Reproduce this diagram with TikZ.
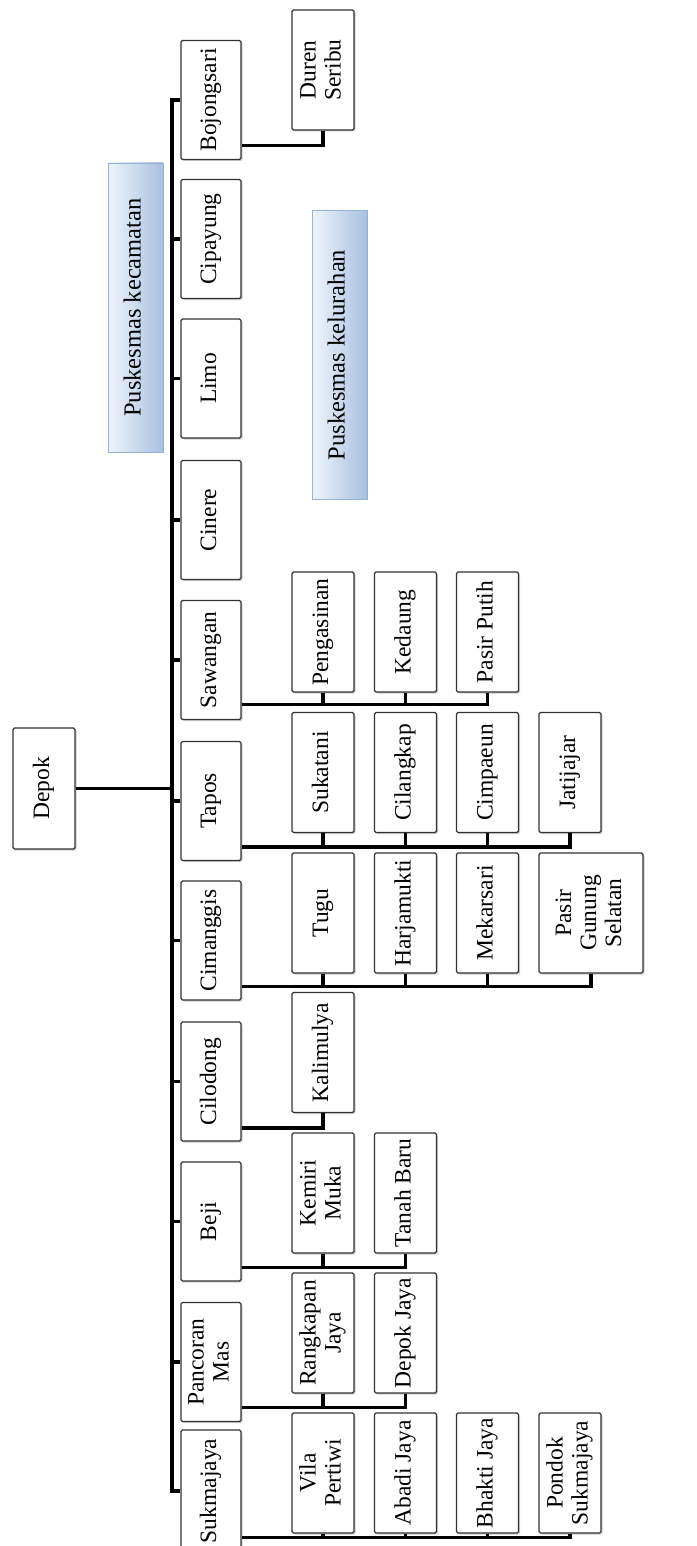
\documentclass[tikz,border=0pt]{standalone}
\usepackage{fontspec}
\setmainfont{Liberation Serif}
\usetikzlibrary{shadows,calc}
\definecolor{legdraw}{RGB}{150,178,215}
\definecolor{legleft}{RGB}{240,245,252}
\definecolor{legright}{RGB}{168,192,224}
% text set sideways, reading upwards
\newcommand\vtxt[1]{\rotatebox{90}{\begin{tabular}{@{}c@{}}#1\end{tabular}}}
\begin{document}
\begin{tikzpicture}[x=1pt,y=-1pt,
  box/.style={draw=black!80, line width=1.1pt, fill=white, rounded corners=1.5pt,
    inner sep=0pt, font=\fontsize{23.5}{25}\selectfont,
    drop shadow={opacity=0.4, shadow xshift=1.5pt, shadow yshift=-1.5pt}},
  kec/.style={box, minimum width=60pt, minimum height=119pt},
  kel/.style={box, minimum width=62pt, minimum height=120pt},
  legendbox/.style={draw=legdraw, line width=0.8pt, left color=legleft, right color=legright,
    inner sep=0pt, minimum width=55pt, minimum height=289pt, font=\fontsize{24.5}{26}\selectfont},
  conn/.style={line width=3.5pt, line join=miter}]
\useasboundingbox (0,0) rectangle (696,1546);

% root
\node[box, minimum width=62pt, minimum height=121pt] (Depok) at (44,788.5) {\vtxt{Depok}};

% kecamatan column
\node[kec] (Bojongsari)  at (211,100)   {\vtxt{Bojongsari}};
\node[kec] (Cipayung)    at (211,239)   {\vtxt{Cipayung}};
\node[kec] (Limo)        at (211,378.5) {\vtxt{Limo}};
\node[kec] (Cinere)      at (211,520)   {\vtxt{Cinere}};
\node[kec] (Sawangan)    at (211,660)   {\vtxt{Sawangan}};
\node[kec] (Tapos)       at (211,801)   {\vtxt{Tapos}};
\node[kec] (Cimanggis)   at (211,940.5) {\vtxt{Cimanggis}};
\node[kec] (Cilodong)    at (211,1081.5){\vtxt{Cilodong}};
\node[kec] (Beji)        at (211,1221.5){\vtxt{Beji}};
\node[kec] (PancoranMas) at (211,1362)  {\vtxt{Pancoran\\Mas}};
\node[kec, minimum height=122pt] (Sukmajaya) at (211,1491) {\vtxt{Sukmajaya}};

% legend labels
\node[legendbox] (legKec) at (135.5,307.5) {\vtxt{Puskesmas kecamatan}};
\node[legendbox] (legKel) at (339.5,355)   {\vtxt{Puskesmas kelurahan}};

% kelurahan boxes
\node[kel] (DurenSeribu) at (323,70)      {\vtxt{Duren\\Seribu}};

\node[kel] (Pengasinan)  at (323,632)     {\vtxt{Pengasinan}};
\node[kel] (Kedaung)     at (405.5,632)   {\vtxt{Kedaung}};
\node[kel] (PasirPutih)  at (487.5,632)   {\vtxt{Pasir Putih}};

\node[kel] (Sukatani)    at (323,772.5)   {\vtxt{Sukatani}};
\node[kel] (Cilangkap)   at (405.5,772.5) {\vtxt{Cilangkap}};
\node[kel] (Cimpaeun)    at (487.5,772.5) {\vtxt{Cimpaeun}};
\node[kel] (Jatijajar)   at (570,772.5)   {\vtxt{Jatijajar}};

\node[kel] (Tugu)        at (323,913)     {\vtxt{Tugu}};
\node[kel] (Harjamukti)  at (405.5,913)   {\vtxt{Harjamukti}};
\node[kel] (Mekarsari)   at (487.5,913)   {\vtxt{Mekarsari}};
\node[kel, minimum width=104pt] (PasirGunung) at (591,913) {\vtxt{Pasir\\Gunung\\Selatan}};

\node[kel] (Kalimulya)   at (323,1052.5)  {\vtxt{Kalimulya}};

\node[kel] (KemiriMuka)  at (323,1193)    {\vtxt{Kemiri\\Muka}};
\node[kel] (TanahBaru)   at (405.5,1193)  {\vtxt{Tanah Baru}};

\node[kel] (Rangkapan)   at (323,1333)    {\vtxt{Rangkapan\\Jaya}};
\node[kel] (DepokJaya)   at (405.5,1333)  {\vtxt{Depok Jaya}};

\node[kel] (VilaPertiwi) at (323,1473)    {\vtxt{Vila\\Pertiwi}};
\node[kel] (AbadiJaya)   at (405.5,1473)  {\vtxt{Abadi Jaya}};
\node[kel] (BhaktiJaya)  at (487.5,1473)  {\vtxt{Bhakti Jaya}};
\node[kel] (PondokSuk)   at (570,1473)    {\vtxt{Pondok\\Sukmajaya}};

% trunk from the root to every kecamatan
\coordinate (tr) at (172,0);
\draw[conn] (Depok.east) -- (Depok.east -| tr);
\draw[conn] (Bojongsari.west) -- (Bojongsari.west -| tr) -- (Sukmajaya.west -| tr) -- (Sukmajaya.west);
\foreach \k in {Cipayung,Limo,Cinere,Sawangan,Tapos,Cimanggis,Cilodong,Beji,PancoranMas}
  \draw[conn] (\k.west -| tr) -- (\k.west);

% kecamatan to kelurahan
\coordinate (bDS) at ($(DurenSeribu.south)+(0,15)$);
\draw[conn] (Bojongsari.east |- bDS) -- (bDS) -- (DurenSeribu.south);

\coordinate (bSw) at ($(PasirPutih.south)+(0,12)$);
\draw[conn] (Sawangan.east |- bSw) -- (bSw) -- (PasirPutih.south);
\foreach \c in {Pengasinan,Kedaung} \draw[conn] (\c.south) -- (\c.south |- bSw);

\coordinate (bTp) at ($(Jatijajar.south)+(0,14)$);
\draw[conn] (Tapos.east |- bTp) -- (bTp) -- (Jatijajar.south);
\foreach \c in {Sukatani,Cilangkap,Cimpaeun} \draw[conn] (\c.south) -- (\c.south |- bTp);

\coordinate (bCm) at ($(PasirGunung.south)+(0,13)$);
\draw[conn] (Cimanggis.east |- bCm) -- (bCm) -- (PasirGunung.south);
\foreach \c in {Tugu,Harjamukti,Mekarsari} \draw[conn] (\c.south) -- (\c.south |- bCm);

\coordinate (bCl) at ($(Kalimulya.south)+(0,15)$);
\draw[conn] (Cilodong.east |- bCl) -- (bCl) -- (Kalimulya.south);

\coordinate (bBj) at ($(TanahBaru.south)+(0,14)$);
\draw[conn] (Beji.east |- bBj) -- (bBj) -- (TanahBaru.south);
\draw[conn] (KemiriMuka.south) -- (KemiriMuka.south |- bBj);

\coordinate (bPM) at ($(DepokJaya.south)+(0,14)$);
\draw[conn] (PancoranMas.east |- bPM) -- (bPM) -- (DepokJaya.south);
\draw[conn] (Rangkapan.south) -- (Rangkapan.south |- bPM);

\coordinate (bSk) at ($(PondokSuk.south)+(0,4)$);
\draw[conn] (Sukmajaya.east |- bSk) -- (bSk) -- (PondokSuk.south);
\foreach \c in {VilaPertiwi,AbadiJaya,BhaktiJaya} \draw[conn] (\c.south) -- (\c.south |- bSk);
\end{tikzpicture}
\end{document}
